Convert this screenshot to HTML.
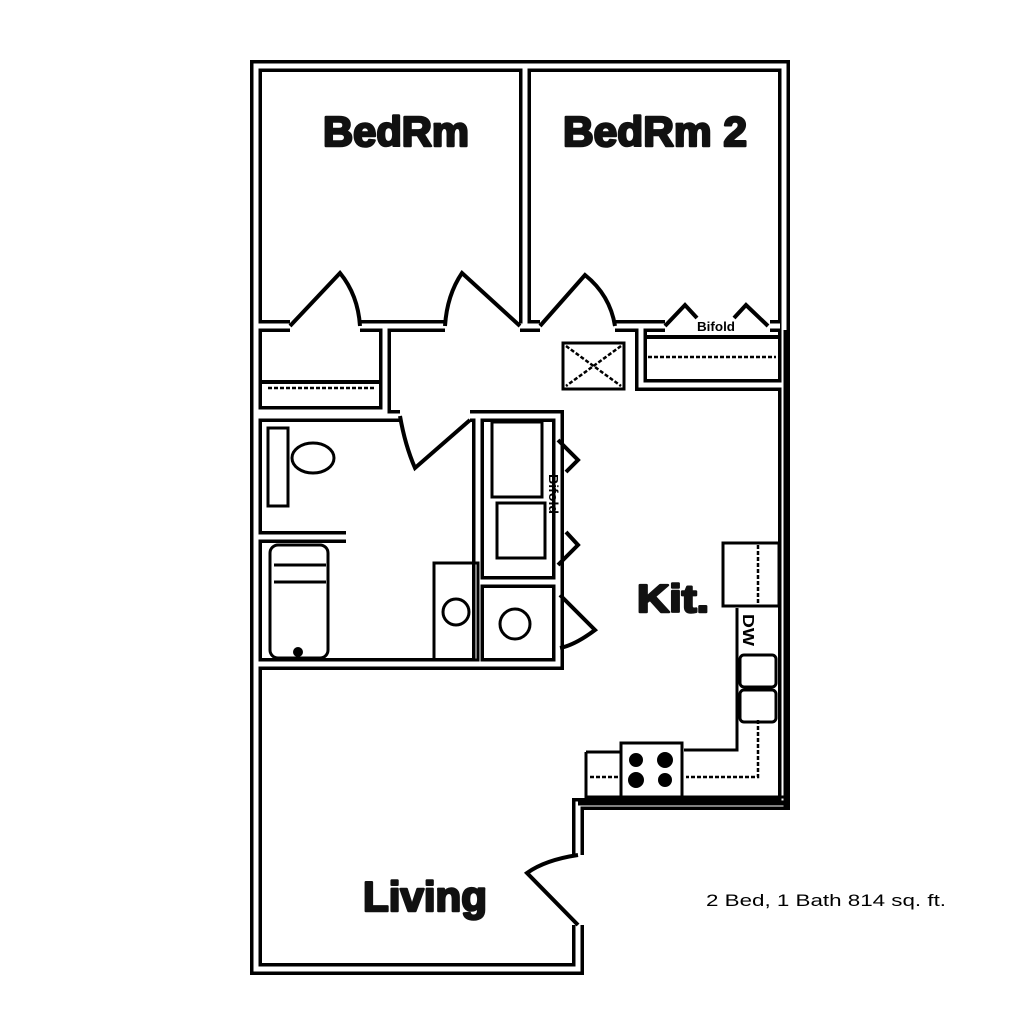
<!DOCTYPE html>
<html><head><meta charset="utf-8"><style>
html,body{margin:0;padding:0;background:#fff;width:1024px;height:1024px;overflow:hidden}
svg{display:block}
</style></head><body>
<svg width="1024" height="1024" viewBox="0 0 1024 1024" xmlns="http://www.w3.org/2000/svg">
<rect width="1024" height="1024" fill="#fff"/>
<g fill="none" stroke-linejoin="miter" stroke-linecap="butt">
<g stroke="#000" stroke-width="12">
<path d="M578,925 V969 H256 V66 H784 V804 H578 V855"/>
<path d="M525,66 V325"/>
<path d="M256,326 H290 M360,326 H445 M520,326 H540 M615,326 H665 M780,326 H770"/>
<path d="M385,326 V412 H256"/>
<path d="M641,326 V385 H784"/>
<path d="M256,416 H400 M470,416 H558 V582 H478 V664 H256"/>
<path d="M478,582 V416"/>
<path d="M558,582 V664 H478"/>
<path d="M256,537 H346"/>
</g>
<g stroke="#fff" stroke-width="5">
<path d="M578,925 V969 H256 V66 H784 V804 H578 V855"/>
<path d="M525,66 V325"/>
<path d="M256,326 H290 M360,326 H445 M520,326 H540 M615,326 H665 M780,326 H770"/>
<path d="M385,326 V412 H256"/>
<path d="M641,326 V385 H784"/>
<path d="M256,416 H400 M470,416 H558 V582 H478 V664 H256"/>
<path d="M478,582 V416"/>
<path d="M558,582 V664 H478"/>
<path d="M256,537 H346"/>
</g>
<!-- heavier right wall in kitchen area -->
<path d="M786,330 V808 M578,803 H786" stroke="#000" stroke-width="5"/>
<g stroke="#000" stroke-width="4">
<path d="M290,326 L340,273 Q358,295 360,326"/>
<path d="M445,326 Q447,295 462,273 L520,326"/>
<path d="M540,326 L585,275 Q610,295 615,326"/>
<path d="M400,416 Q405,445 415,468 L470,420"/>
<path d="M578,855 Q545,860 527,873 L578,925"/>
<path d="M560,595 L595,630 Q575,645 560,648"/>
<path d="M665,326 L685,305 L697,318 M734,318 L746,305 L768,326"/>
<path d="M558,440 L578,460 L566,472 M566,532 L578,545 L558,565"/>
<path d="M262,382 H380 M646,337 H778"/>
<rect x="563" y="343" width="61" height="46" stroke-width="3"/>
<rect x="492" y="422" width="50" height="75" stroke-width="3"/>
<rect x="497" y="503" width="48" height="55" stroke-width="3"/>
<rect x="268" y="428" width="20" height="78" stroke-width="3"/>
<ellipse cx="313" cy="458" rx="21" ry="15" stroke-width="3"/>
<rect x="270" y="545" width="58" height="113" rx="8" stroke-width="3"/>
<path d="M274,565 H326 M274,582 H326" stroke-width="3"/>
<circle cx="298" cy="652" r="3" fill="#000"/>
<rect x="434" y="563" width="44" height="97" stroke-width="3"/>
<circle cx="456" cy="612" r="13" stroke-width="3"/>
<circle cx="515" cy="624" r="15" stroke-width="3"/>
<rect x="723" y="543" width="56" height="63" stroke-width="3"/>
<path d="M737,608 V750 H684 M586,752 H620 M586,752 V797 H784" stroke-width="3"/>
<rect x="740" y="655" width="36" height="32" rx="4" stroke-width="3"/>
<rect x="740" y="690" width="36" height="32" rx="4" stroke-width="3"/>
<rect x="621" y="743" width="61" height="54" stroke-width="3"/>
<circle cx="636" cy="760" r="5" fill="#000"/><circle cx="665" cy="760" r="6" fill="#000"/>
<circle cx="636" cy="780" r="6" fill="#000"/><circle cx="665" cy="780" r="5" fill="#000"/>
</g>
<g stroke="#000" stroke-width="2.5" stroke-dasharray="4 2">
<path d="M268,388 H376 M648,357 H776"/>
<path d="M566,346 L621,386 M621,346 L566,386"/>
<path d="M758,545 V605 M758,720 V777 H686 M590,777 H620"/>
</g>
</g>
<g font-family="Liberation Sans, sans-serif" font-weight="bold" fill="#111" stroke="#111" stroke-width="2.5" stroke-linejoin="round">
<text x="323" y="146" font-size="42" textLength="146" lengthAdjust="spacingAndGlyphs">BedRm</text>
<text x="563" y="146" font-size="42" textLength="184" lengthAdjust="spacingAndGlyphs">BedRm 2</text>
<text x="637" y="612" font-size="39" textLength="72" lengthAdjust="spacingAndGlyphs">Kit.</text>
<text x="363" y="911" font-size="42" textLength="124" lengthAdjust="spacingAndGlyphs">Living</text>
</g>
<g font-family="Liberation Sans, sans-serif" font-weight="bold" fill="#000">
<text x="697" y="331" font-size="13" textLength="38" lengthAdjust="spacingAndGlyphs">Bifold</text>
<text transform="translate(549,474) rotate(90)" font-size="13" textLength="40" lengthAdjust="spacingAndGlyphs">Bifold</text>
<text transform="translate(743,614) rotate(90)" font-size="16" textLength="32" lengthAdjust="spacingAndGlyphs">DW</text>
</g>
<text x="706" y="906" font-family="Liberation Sans, sans-serif" font-size="17" fill="#000" textLength="240" lengthAdjust="spacingAndGlyphs">2 Bed, 1 Bath 814 sq. ft.</text>
</svg>
</body></html>
